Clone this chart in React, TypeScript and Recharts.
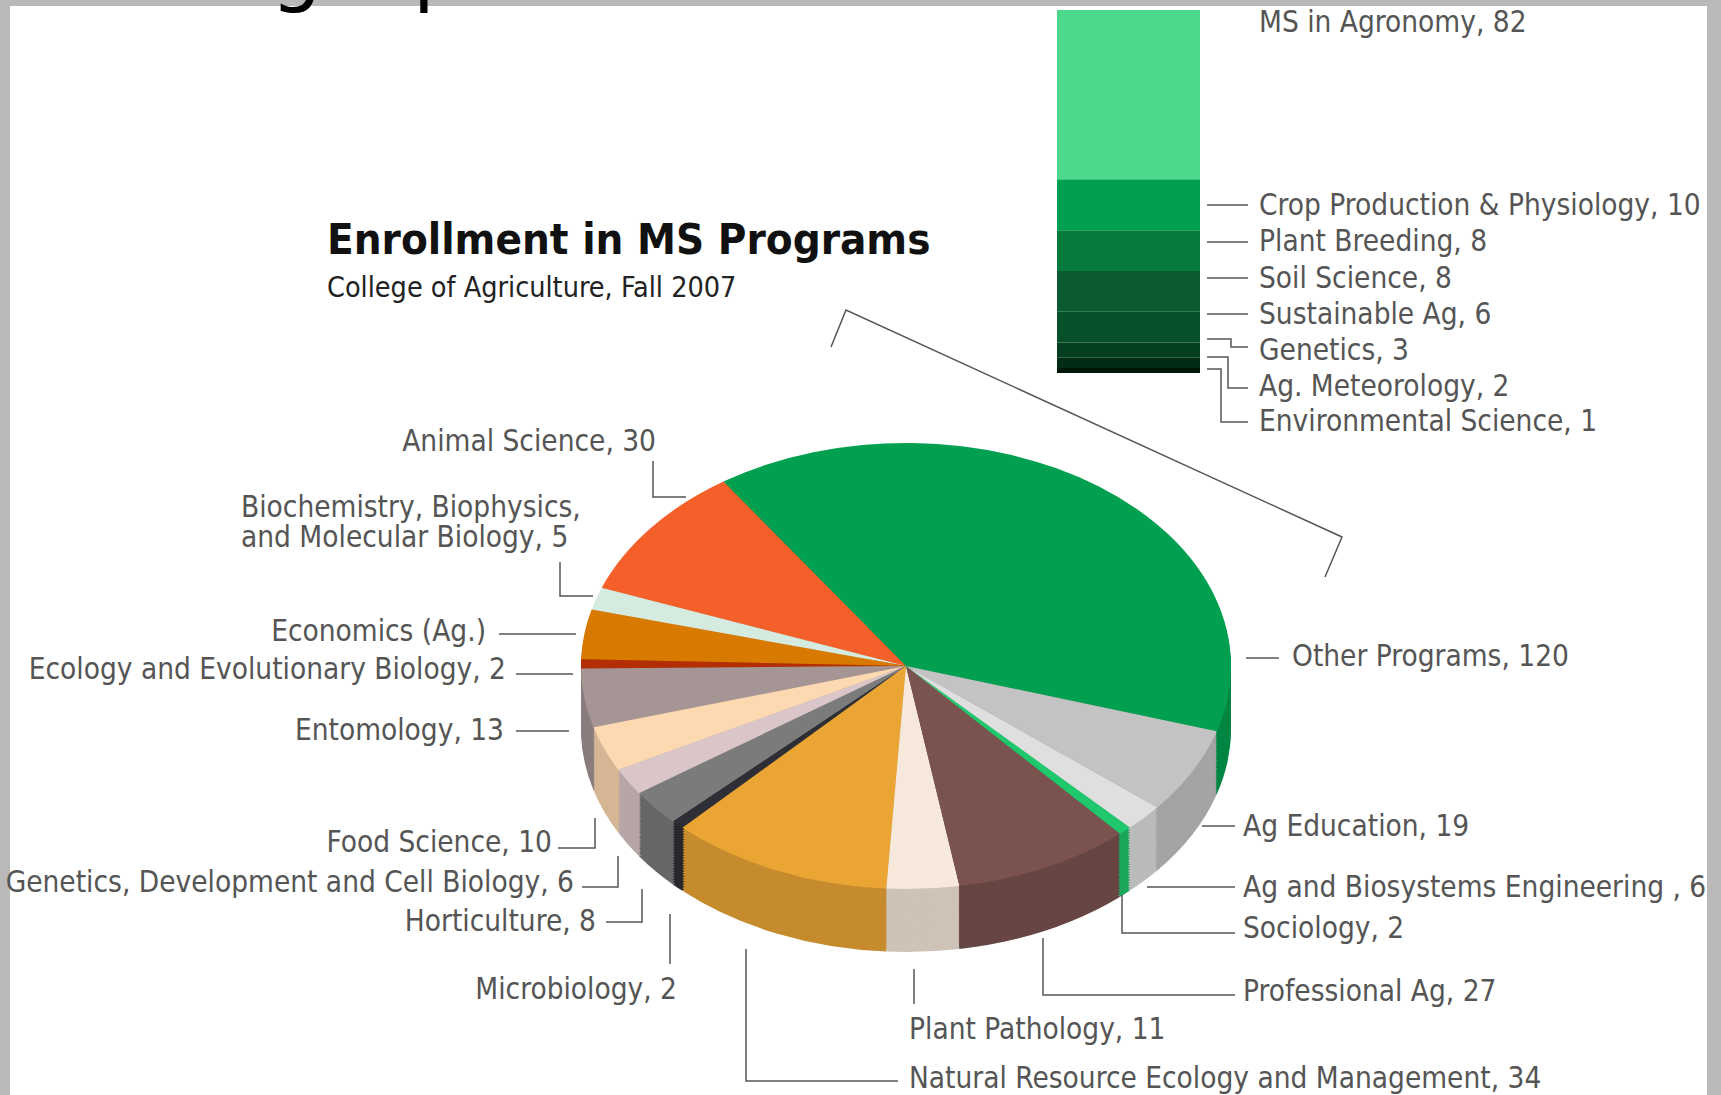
import { Bar, BarChart, Cell, Pie, PieChart, XAxis, YAxis } from "recharts";

// main pie, counter-clockwise from the right edge of "Other Programs"
const programs = [
  "Other Programs",
  "Animal Science",
  "Biochemistry, Biophysics,\nand Molecular Biology",
  "Economics (Ag.)",
  "Ecology and Evolutionary Biology",
  "Entomology",
  "Food Science",
  "Genetics, Development and Cell Biology",
  "Horticulture",
  "Microbiology",
  "Natural Resource Ecology and Management",
  "Plant Pathology",
  "Professional Ag",
  "Sociology",
  "Ag and Biosystems Engineering ",
  "Ag Education",
];
const enrollment = [120, 30, 5, 11, 2, 13, 10, 6, 8, 2, 34, 11, 27, 2, 6, 19];
// the original prints no number for this slice (value estimated from its angle)
const unlabeled = ["Economics (Ag.)"];

// breakdown of "Other Programs", bottom of the stack last
const otherPrograms = [
  "MS in Agronomy",
  "Crop Production & Physiology",
  "Plant Breeding",
  "Soil Science",
  "Sustainable Ag",
  "Genetics",
  "Ag. Meteorology",
  "Environmental Science",
];
const otherEnrollment = [82, 10, 8, 8, 6, 3, 2, 1];

const sliceColors = [
  "#00a050", "#f5602a", "#d6ebdf", "#d97a00", "#b32d05", "#a69595", "#fdd9b1", "#dac6c8",
  "#7b7b7b", "#2e2f36", "#eba535", "#f6e8da", "#7a524e", "#1fc76d", "#dfdfdf", "#c3c3c3",
];
const otherColors = ["#4cd98b", "#00a050", "#077b3e", "#0a5c30", "#07502a", "#04401f", "#022c15", "#00170a"];

type Pt = [number, number];
type LabelPos = { x: number; y: number; anchor: "start" | "end"; leader: Pt[] };

const sliceLabelPos: LabelPos[] = [
  { x: 1292, y: 666, anchor: "start", leader: [[1246, 658], [1279, 658]] },
  { x: 656, y: 451, anchor: "end", leader: [[653, 461], [653, 497], [686, 497]] },
  { x: 241, y: 517, anchor: "start", leader: [[560, 562], [560, 596], [593, 596]] },
  { x: 486, y: 641, anchor: "end", leader: [[499, 634], [576, 634]] },
  { x: 506, y: 679, anchor: "end", leader: [[516, 674], [573, 674]] },
  { x: 504, y: 740, anchor: "end", leader: [[516, 731], [569, 731]] },
  { x: 552, y: 852, anchor: "end", leader: [[558, 848], [595, 848], [595, 818]] },
  { x: 574, y: 892, anchor: "end", leader: [[582, 887], [618, 887], [618, 856]] },
  { x: 596, y: 931, anchor: "end", leader: [[606, 922], [642, 922], [642, 889]] },
  { x: 677, y: 999, anchor: "end", leader: [[670, 964], [670, 914]] },
  { x: 909, y: 1088, anchor: "start", leader: [[898, 1081], [746, 1081], [746, 949]] },
  { x: 909, y: 1039, anchor: "start", leader: [[914, 1004], [914, 969]] },
  { x: 1243, y: 1001, anchor: "start", leader: [[1235, 995], [1043, 995], [1043, 938]] },
  { x: 1243, y: 938, anchor: "start", leader: [[1235, 933], [1122, 933], [1122, 895]] },
  { x: 1243, y: 897, anchor: "start", leader: [[1235, 887], [1147, 887]] },
  { x: 1243, y: 836, anchor: "start", leader: [[1235, 826], [1202, 826]] },
];

const otherLabelPos: LabelPos[] = [
  { x: 1259, y: 32, anchor: "start", leader: [] },
  { x: 1259, y: 215, anchor: "start", leader: [[1207, 205], [1248, 205]] },
  { x: 1259, y: 251, anchor: "start", leader: [[1207, 242], [1248, 242]] },
  { x: 1259, y: 288, anchor: "start", leader: [[1207, 278], [1248, 278]] },
  { x: 1259, y: 324, anchor: "start", leader: [[1207, 314], [1248, 314]] },
  { x: 1259, y: 360, anchor: "start", leader: [[1207, 339], [1231, 339], [1231, 347], [1248, 347]] },
  { x: 1259, y: 396, anchor: "start", leader: [[1207, 357], [1228, 357], [1228, 388], [1248, 388]] },
  { x: 1259, y: 431, anchor: "start", leader: [[1207, 369], [1221, 369], [1221, 422], [1248, 422]] },
];

const W = 1721;
const H = 1095;
const FONT = "'DejaVu Sans Condensed', 'DejaVu Sans', sans-serif";
const TEXT = "#555";

// pseudo-3D pie: circles squashed vertically, side wall from stacked darker layers
const SQUASH = 223 / 325;
const PIE_CX = 906;
const PIE_CY = 666 / SQUASH;
const PIE_R = 325;
const DEPTH = 63 / SQUASH;
const LAYERS = 24;
const START = -17;

// bar of pie: 5.1 px per student, bottom at y=373
const BAR_PX = 5.1;
const BAR_LEFT = 1057;
const BAR_WIDTH = 143;
const BAR_BOTTOM = 373;

function shade(hex: string, f: number) {
  const n = parseInt(hex.slice(1), 16);
  const c = [(n >> 16) & 255, (n >> 8) & 255, n & 255].map((v) => Math.round(v * f));
  return `rgb(${c[0]},${c[1]},${c[2]})`;
}

const pieData = programs.map((name, i) => ({ name, value: enrollment[i] }));
const barRow: Record<string, number | string> = { name: "Other Programs" };
otherEnrollment.forEach((v, i) => (barRow[`p${i}`] = v));
const barData = [barRow];

function Leader({ pts }: { pts: Pt[] }) {
  if (!pts.length) return null;
  return (
    <polyline
      points={pts.map((p) => p.join(",")).join(" ")}
      fill="none"
      stroke={TEXT}
      strokeWidth={1.5}
    />
  );
}

function Label({ pos, text }: { pos: LabelPos; text: string }) {
  const lines = text.split("\n");
  return (
    <g>
      <Leader pts={pos.leader} />
      {lines.map((l, i) => (
        <text
          key={i}
          x={pos.x}
          y={pos.y + i * 30}
          textAnchor={pos.anchor}
          fontFamily={FONT}
          fontStretch="condensed"
          fontSize={29.5}
          fill={TEXT}
        >
          {l}
        </text>
      ))}
    </g>
  );
}

export default function App() {
  const pieHeight = Math.ceil(H / SQUASH);
  const sideOffsets = Array.from({ length: LAYERS }, (_, i) => DEPTH * (1 - i / LAYERS));
  return (
    <div
      style={{
        position: "absolute",
        left: 0,
        top: 0,
        width: W,
        height: H,
        overflow: "hidden",
        background: "#b9b9b9",
      }}
    >
      <div style={{ position: "absolute", left: 10, top: 6, width: 1697, height: H - 6, background: "#fff" }} />

      <div
        style={{
          position: "absolute",
          left: 0,
          top: 0,
          transform: `scaleY(${SQUASH})`,
          transformOrigin: "0 0",
        }}
      >
        <PieChart width={W} height={pieHeight} margin={{ top: 0, right: 0, bottom: 0, left: 0 }}>
          {sideOffsets.map((off, layer) => (
            <Pie
              key={`side${layer}`}
              data={pieData}
              dataKey="value"
              cx={PIE_CX}
              cy={PIE_CY + off}
              outerRadius={PIE_R}
              startAngle={START}
              endAngle={START + 360}
              stroke="none"
              isAnimationActive={false}
            >
              {pieData.map((_, i) => (
                <Cell key={i} fill={shade(sliceColors[i], 0.84)} />
              ))}
            </Pie>
          ))}
          <Pie
            data={pieData}
            dataKey="value"
            cx={PIE_CX}
            cy={PIE_CY}
            outerRadius={PIE_R}
            startAngle={START}
            endAngle={START + 360}
            stroke="none"
            isAnimationActive={false}
          >
            {pieData.map((_, i) => (
              <Cell key={i} fill={sliceColors[i]} />
            ))}
          </Pie>
        </PieChart>
      </div>

      <div
        style={{
          position: "absolute",
          left: BAR_LEFT,
          top: 10,
          width: BAR_WIDTH,
          height: BAR_BOTTOM - 10,
          overflow: "hidden",
        }}
      >
        <div style={{ position: "absolute", left: 0, top: BAR_BOTTOM - 10 - 120 * BAR_PX }}>
          <BarChart
            width={BAR_WIDTH}
            height={120 * BAR_PX}
            data={barData}
            margin={{ top: 0, right: 0, bottom: 0, left: 0 }}
            barCategoryGap={0}
          >
            <XAxis dataKey="name" hide />
            <YAxis hide domain={[0, 120]} />
            {otherPrograms
              .map((_, i) => i)
              .reverse()
              .map((i) => (
                <Bar key={i} dataKey={`p${i}`} stackId="other" fill={otherColors[i]} isAnimationActive={false} />
              ))}
          </BarChart>
        </div>
      </div>

      <svg width={W} height={H} style={{ position: "absolute", left: 0, top: 0 }}>
        {/* descenders of a heading cut off by the top edge */}
        <text x={271} y={-4} fontFamily="'DejaVu Sans', sans-serif" fontSize={80} fill="#000">
          g
        </text>
        <text x={413} y={-4} fontFamily="'DejaVu Sans', sans-serif" fontSize={80} fill="#000">
          p
        </text>

        <text x={327} y={254} fontFamily={FONT} fontStretch="condensed" fontWeight="bold" fontSize={43.5} fill="#111">
          Enrollment in MS Programs
        </text>
        <text x={327} y={297} fontFamily={FONT} fontStretch="condensed" fontSize={28.5} fill="#222">
          College of Agriculture, Fall 2007
        </text>

        <polyline points="831,347 846,310 1342,537 1325,577" fill="none" stroke="#555" strokeWidth={1.5} />

        {programs.map((name, i) => (
          <Label
            key={name}
            pos={sliceLabelPos[i]}
            text={unlabeled.includes(name) ? name : `${name}, ${enrollment[i]}`}
          />
        ))}
        {otherPrograms.map((name, i) => (
          <Label key={name} pos={otherLabelPos[i]} text={`${name}, ${otherEnrollment[i]}`} />
        ))}
      </svg>
    </div>
  );
}
